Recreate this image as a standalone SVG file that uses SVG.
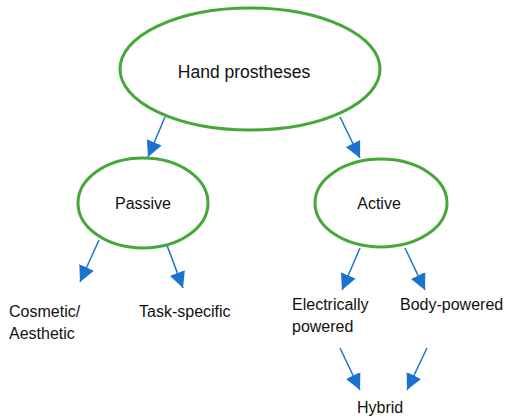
<svg xmlns="http://www.w3.org/2000/svg" width="506" height="420" viewBox="0 0 506 420">
<style>
.n{fill:#fff;stroke:#45a838;stroke-width:3}
.t{font-family:"Liberation Sans",Arial,sans-serif;font-size:16px;fill:#111}
.c{stroke:#1c72d0;stroke-width:1.5;fill:none;marker-end:url(#ah)}
</style>
<defs>
<marker id="ah" markerUnits="userSpaceOnUse" markerWidth="16" markerHeight="16" refX="14" refY="7" orient="auto" viewBox="0 0 14 14">
<path d="M0,0 L14,7 L0,14 Z" fill="#1c72d0"/>
</marker>
</defs>
<rect width="506" height="420" fill="#fff"/>
<g id="connectors">
<line class="c" x1="165" y1="117" x2="148" y2="157"/>
<line class="c" x1="340" y1="117" x2="360" y2="158"/>
<line class="c" x1="99" y1="240" x2="80" y2="282"/>
<line class="c" x1="165" y1="240" x2="183" y2="288"/>
<line class="c" x1="360" y1="248" x2="342" y2="290"/>
<line class="c" x1="405" y1="248" x2="425" y2="290"/>
<line class="c" x1="340" y1="348" x2="360" y2="390"/>
<line class="c" x1="427" y1="348" x2="407" y2="390"/>
</g>
<g id="hand">
<ellipse class="n" cx="250" cy="69" rx="130" ry="61"/>
<text class="t" x="244" y="78" text-anchor="middle" style="font-size:17.5px">Hand prostheses</text>
</g>
<g id="passive">
<ellipse class="n" cx="143" cy="203" rx="65" ry="45"/>
<text class="t" x="143" y="209" text-anchor="middle">Passive</text>
</g>
<g id="active">
<ellipse class="n" cx="381" cy="203" rx="66" ry="44"/>
<text class="t" x="379" y="209" text-anchor="middle">Active</text>
</g>
<g id="cosmetic"><text class="t" x="9" y="317">Cosmetic/</text><text class="t" x="9" y="339">Aesthetic</text></g>
<g id="task"><text class="t" x="139" y="317">Task-specific</text></g>
<g id="electric"><text class="t" x="292" y="310">Electrically</text><text class="t" x="292" y="332">powered</text></g>
<g id="body"><text class="t" x="400" y="310">Body-powered</text></g>
<g id="hybrid"><text class="t" x="357" y="413">Hybrid</text></g>
</svg>
